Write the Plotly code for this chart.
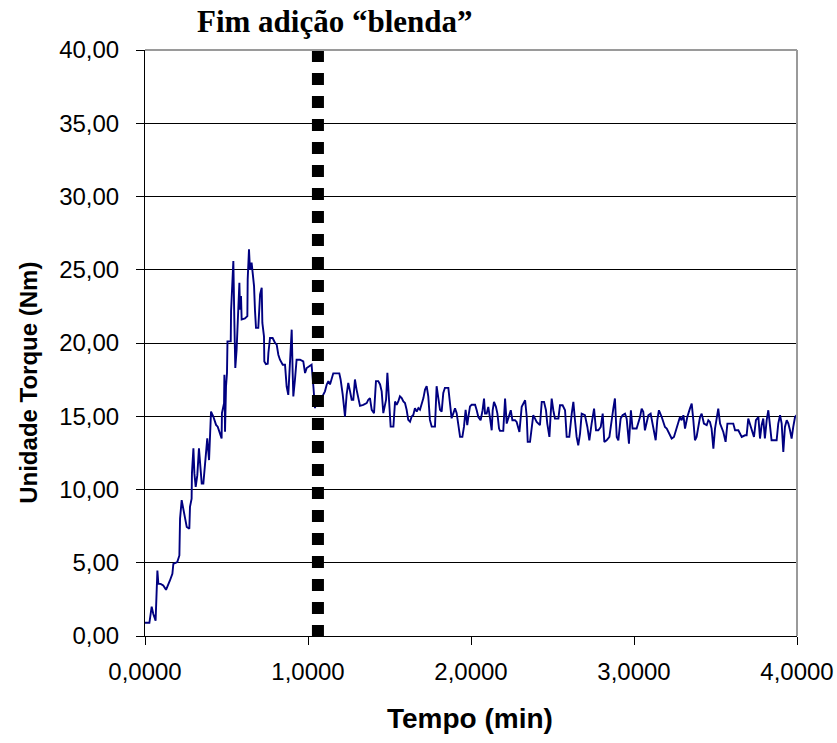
import plotly.graph_objects as go

# Torque curve recorded during mixing (time in minutes, torque in N·m)
tempo_min = [
    0.000, 0.027, 0.041, 0.051, 0.065, 0.076, 0.082, 0.096, 0.112, 0.129,
    0.153, 0.168, 0.174, 0.198, 0.211, 0.215, 0.225, 0.241, 0.256, 0.272,
    0.276, 0.286, 0.288, 0.297, 0.303, 0.311, 0.321, 0.331, 0.337, 0.348,
    0.358, 0.368, 0.382, 0.393, 0.399, 0.405, 0.419, 0.436, 0.446, 0.460,
    0.470, 0.472, 0.485, 0.487, 0.491, 0.497, 0.503, 0.506, 0.526, 0.528,
    0.542, 0.548, 0.554, 0.562, 0.571, 0.579, 0.583, 0.589, 0.593, 0.613,
    0.628, 0.630, 0.638, 0.644, 0.654, 0.669, 0.675, 0.681, 0.695, 0.706,
    0.716, 0.720, 0.730, 0.732, 0.742, 0.753, 0.757, 0.767, 0.783, 0.798,
    0.808, 0.818, 0.828, 0.845, 0.859, 0.869, 0.879, 0.890, 0.900, 0.906,
    0.910, 0.920, 0.930, 0.951, 0.971, 0.982, 0.992, 1.012, 1.022, 1.033,
    1.043, 1.053, 1.064, 1.078, 1.094, 1.104, 1.115, 1.125, 1.135, 1.145,
    1.155, 1.192, 1.200, 1.213, 1.227, 1.237, 1.247, 1.258, 1.268, 1.278,
    1.288, 1.298, 1.309, 1.319, 1.339, 1.360, 1.370, 1.380, 1.391, 1.405,
    1.417, 1.431, 1.442, 1.452, 1.462, 1.472, 1.479, 1.487, 1.499, 1.507,
    1.524, 1.534, 1.544, 1.554, 1.564, 1.575, 1.585, 1.595, 1.605, 1.615,
    1.626, 1.636, 1.646, 1.656, 1.667, 1.677, 1.687, 1.708, 1.718, 1.728,
    1.738, 1.748, 1.759, 1.779, 1.789, 1.799, 1.810, 1.820, 1.830, 1.840,
    1.861, 1.871, 1.881, 1.892, 1.902, 1.912, 1.922, 1.933, 1.947, 1.957,
    1.967, 1.977, 1.984, 1.994, 2.004, 2.025, 2.035, 2.045, 2.059, 2.071,
    2.080, 2.086, 2.096, 2.106, 2.117, 2.127, 2.133, 2.141, 2.153, 2.162,
    2.172, 2.178, 2.198, 2.209, 2.219, 2.229, 2.244, 2.254, 2.270, 2.280,
    2.297, 2.311, 2.332, 2.342, 2.348, 2.362, 2.372, 2.382, 2.393, 2.403,
    2.423, 2.434, 2.448, 2.460, 2.468, 2.481, 2.489, 2.495, 2.505, 2.515,
    2.536, 2.546, 2.562, 2.577, 2.587, 2.603, 2.618, 2.628, 2.638, 2.648,
    2.658, 2.669, 2.679, 2.699, 2.714, 2.726, 2.740, 2.755, 2.767, 2.781,
    2.796, 2.808, 2.818, 2.832, 2.849, 2.863, 2.873, 2.883, 2.894, 2.904,
    2.918, 2.930, 2.945, 2.955, 2.969, 2.981, 2.991, 3.016, 3.037, 3.047,
    3.057, 3.067, 3.078, 3.088, 3.102, 3.112, 3.123, 3.133, 3.143, 3.153,
    3.170, 3.180, 3.190, 3.201, 3.215, 3.231, 3.245, 3.262, 3.272, 3.282,
    3.292, 3.303, 3.313, 3.327, 3.343, 3.354, 3.364, 3.374, 3.384, 3.394,
    3.405, 3.415, 3.429, 3.446, 3.456, 3.466, 3.476, 3.487, 3.497, 3.507,
    3.517, 3.528, 3.538, 3.548, 3.562, 3.573, 3.609, 3.620, 3.640, 3.650,
    3.661, 3.681, 3.691, 3.701, 3.712, 3.722, 3.736, 3.748, 3.763, 3.773,
    3.783, 3.793, 3.803, 3.814, 3.824, 3.834, 3.844, 3.875, 3.885, 3.896,
    3.906, 3.916, 3.926, 3.937, 3.947, 3.957, 3.967, 3.977, 3.988, 3.998,
]

torque_nm = [
    0.90, 0.90, 2.00, 1.50, 1.05, 4.47, 3.56, 3.56, 3.45, 3.15,
    3.79, 4.25, 4.93, 5.05, 5.50, 8.01, 9.27, 8.24, 7.44, 7.33,
    8.81, 9.38, 11.10, 12.81, 11.10, 10.18, 10.98, 12.81, 12.01, 10.41,
    10.41, 11.55, 13.49, 12.01, 14.29, 15.32, 14.98, 14.41, 14.29, 13.72,
    13.49, 15.21, 15.89, 17.83, 13.95, 17.03, 17.95, 20.11, 20.11, 22.17,
    25.59, 21.60, 18.29, 19.54, 21.83, 24.11, 22.28, 23.20, 21.60, 21.67,
    21.83, 24.34, 26.39, 25.02, 25.48, 23.88, 22.17, 21.03, 21.03, 23.31,
    23.77, 21.37, 20.46, 18.74, 18.56, 18.58, 19.32, 20.34, 20.34, 20.00,
    19.89, 19.20, 18.86, 18.52, 18.52, 17.03, 16.46, 18.40, 20.91, 17.95,
    16.35, 17.49, 18.86, 18.86, 18.74, 17.95, 18.29, 18.45, 18.52, 17.03,
    15.55, 16.36, 16.01, 16.13, 16.47, 16.70, 17.17, 17.40, 17.17, 17.51,
    17.93, 17.93, 17.51, 16.47, 14.98, 16.47, 17.28, 16.70, 16.13, 16.13,
    17.51, 16.82, 16.24, 15.71, 15.78, 15.90, 16.13, 16.24, 15.44, 15.21,
    17.40, 17.40, 17.17, 16.70, 15.21, 15.90, 16.13, 17.97, 15.90, 14.29,
    14.29, 16.01, 15.78, 16.01, 16.36, 16.24, 16.01, 15.90, 15.44, 14.75,
    14.63, 14.98, 15.09, 15.55, 15.32, 15.55, 15.44, 16.24, 16.82, 17.05,
    16.36, 14.75, 14.29, 14.29, 17.05, 16.36, 15.44, 15.32, 16.59, 16.94,
    16.94, 15.90, 14.86, 15.21, 15.55, 15.21, 14.29, 13.59, 13.59, 14.29,
    15.44, 14.40, 14.98, 15.67, 15.78, 15.78, 15.41, 14.95, 14.73, 15.41,
    16.21, 15.18, 15.18, 15.64, 14.84, 14.04, 15.41, 15.98, 15.64, 15.18,
    14.16, 14.00, 14.00, 16.21, 14.50, 14.84, 15.41, 14.73, 14.73, 14.61,
    13.93, 15.64, 16.09, 14.95, 13.25, 13.25, 14.27, 15.07, 14.84, 14.61,
    14.39, 15.98, 15.98, 15.41, 14.50, 13.59, 15.18, 16.21, 15.41, 14.84,
    14.84, 15.75, 15.75, 15.41, 13.59, 13.59, 15.18, 15.98, 14.73, 13.59,
    13.02, 13.82, 15.18, 15.07, 14.27, 13.36, 14.50, 15.52, 14.04, 14.04,
    14.27, 15.18, 13.25, 13.36, 13.59, 14.95, 15.52, 16.21, 13.59, 13.36,
    14.84, 15.07, 15.18, 14.84, 13.13, 15.41, 14.16, 14.16, 14.95, 15.52,
    15.30, 14.04, 14.50, 15.07, 15.18, 14.50, 13.93, 13.36, 14.73, 15.41,
    14.95, 14.61, 14.27, 14.16, 13.82, 13.48, 13.59, 14.16, 14.50, 14.95,
    14.73, 15.07, 14.16, 14.95, 15.52, 15.86, 14.73, 13.36, 13.59, 14.39,
    14.95, 15.18, 14.50, 14.39, 14.73, 14.61, 14.16, 12.79, 14.16, 14.84,
    15.52, 14.50, 14.16, 13.93, 13.25, 14.50, 14.50, 14.04, 14.04, 13.82,
    13.59, 13.70, 13.70, 14.84, 14.39, 14.16, 13.59, 14.73, 14.95, 13.48,
    14.39, 14.84, 13.48, 14.73, 15.41, 14.39, 13.36, 13.36, 14.50, 15.07,
    14.50, 12.57, 14.27, 14.73, 14.50, 14.04, 13.48, 14.27, 14.95, 15.07,
]

# Moment the blend addition ends
fim_adicao_min = 1.061
marker_range = [40, 0]

x_ticks = [0, 1, 2, 3, 4]
y_ticks = [0, 5, 10, 15, 20, 25, 30, 35, 40]

SANS = "Liberation Sans, Arial, sans-serif"
SERIF = "Liberation Serif, Times New Roman, serif"

fig = go.Figure()

fig.add_trace(go.Scatter(
    x=tempo_min, y=torque_nm, mode="lines",
    line=dict(color="#000080", width=1.9),
    showlegend=False, hoverinfo="skip",
))

# Thick dotted marker at the end of the blend addition
fig.add_trace(go.Scatter(
    x=[fim_adicao_min, fim_adicao_min], y=marker_range, mode="lines",
    line=dict(color="black", width=12, dash="12px,11px"),
    showlegend=False, hoverinfo="skip",
))

fig.update_layout(
    width=837, height=743,
    margin=dict(l=145, r=40, t=50, b=107, autoexpand=False),
    paper_bgcolor="white", plot_bgcolor="white",
    separators=",.",
    font=dict(family=SANS, size=24, color="black"),
    xaxis=dict(
        range=[0, 4], tickvals=x_ticks, tickformat=".4f",
        showgrid=False, zeroline=False, automargin=False,
        showline=True, linecolor="black", linewidth=1,
        ticks="outside", ticklen=8, tickcolor="black", tickwidth=1,
        tickfont=dict(family=SANS, size=24, color="black"),
        ticklabelstandoff=6,
    ),
    yaxis=dict(
        range=[0, 40], tickvals=y_ticks, tickformat=".2f",
        showgrid=True, gridcolor="black", gridwidth=1, zeroline=False,
        automargin=False,
        showline=True, linecolor="black", linewidth=1,
        ticks="outside", ticklen=8, tickcolor="black", tickwidth=1,
        tickfont=dict(family=SANS, size=24, color="black"),
        ticklabelstandoff=12,
    ),
    shapes=[
        dict(type="line", xref="paper", yref="paper", x0=0, x1=1, y0=1, y1=1,
             line=dict(color="#9a9a9a", width=2)),
        dict(type="line", xref="paper", yref="paper", x0=1, x1=1, y0=0, y1=1,
             line=dict(color="#9a9a9a", width=2)),
    ],
    annotations=[
        dict(text="<b>Fim adição “blenda”</b>", xref="paper", yref="paper",
             x=0.291, y=1.048, xanchor="center", yanchor="middle",
             showarrow=False, font=dict(family=SERIF, size=31, color="black")),
        dict(text="<b>Tempo (min)</b>", xref="paper", yref="paper",
             x=0.498, y=-0.140, xanchor="center", yanchor="middle",
             showarrow=False, font=dict(family=SANS, size=28, color="black")),
        dict(text="<b>Unidade Torque (Nm)</b>", xref="paper", yref="paper",
             x=-0.178, y=0.432, xanchor="center", yanchor="middle",
             textangle=-90, showarrow=False,
             font=dict(family=SANS, size=24, color="black")),
    ],
)

fig.write_html("out.html")
